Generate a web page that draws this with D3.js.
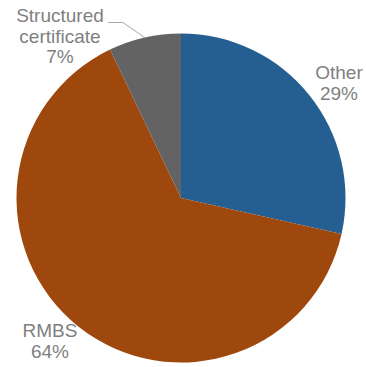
<!DOCTYPE html>
<html><head><meta charset="utf-8">
<script src="https://cdn.jsdelivr.net/npm/d3@7"></script>
<style>body{margin:0;background:#fff}svg{display:block}</style>
</head><body>
<script>
const categories = ["Other", "RMBS", "Structured certificate"];
const values = [28.5, 64.4, 7.1];
const colors = ["#255E91", "#9E480E", "#636363"];
const labelLines = [["Other"], ["RMBS"], ["Structured", "certificate"]];

const W = 366, H = 367, cx = 181, cy = 198, R = 164.5;
const svg = d3.select("body").append("svg").attr("width", W).attr("height", H);
const g = svg.append("g").attr("transform", `translate(${cx},${cy})`);
const pie = d3.pie().sort(null).value(d => d.v);
const data = pie(categories.map((c, i) => ({c, v: values[i], i})));
const arc = d3.arc().innerRadius(0).outerRadius(R);
g.selectAll("path.slice").data(data).join("path")
  .attr("class", "slice").attr("d", arc).attr("fill", d => colors[d.data.i]);

const fmt = v => d3.format(".0f")(v) + "%";
const labelPos = [[339, 79], [50, 337], [60, 22]];
const lh = 20.5;
labelLines.forEach((lines, i) => {
  const t = svg.append("text").attr("text-anchor", "middle")
    .attr("font-family", "Liberation Sans, Arial, sans-serif")
    .attr("font-size", 19).attr("fill", "#7F7F7F");
  lines.concat([fmt(values[i])]).forEach((l, j) =>
    t.append("tspan").attr("x", labelPos[i][0]).attr("y", labelPos[i][1] + j * lh).text(l));
});
const sc = data[2];
const mid = (sc.startAngle + sc.endAngle) / 2;
const ax = cx + R * Math.sin(mid), ay = cy - R * Math.cos(mid);
svg.append("path").attr("d", `M108,22.5 L123,22.5 L${ax},${ay}`)
  .attr("fill", "none").attr("stroke", "#A6A6A6").attr("stroke-width", 1);
</script>
</body></html>
